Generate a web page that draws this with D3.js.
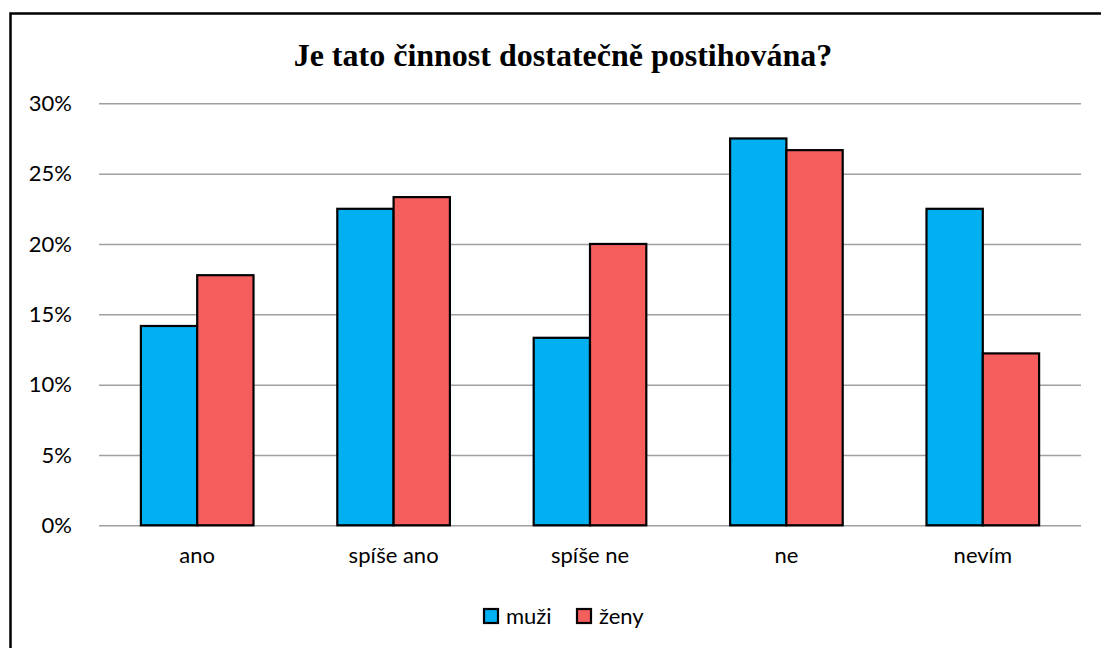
<!DOCTYPE html>
<html><head><meta charset="utf-8">
<script src="https://cdn.jsdelivr.net/npm/d3@7"></script>
<style>body{margin:0;background:#fff}svg{display:block}</style>
</head><body><svg id="c" width="1101" height="648"></svg>
<script>
const categories = ["ano","spíše ano","spíše ne","ne","nevím"];
const seriesNames = ["muži","ženy"];
const muzi = [0.1417,0.225,0.1333,0.275,0.225];
const zeny = [0.1778,0.2333,0.20,0.2667,0.1222];
const yTicks = [0,0.05,0.10,0.15,0.20,0.25,0.30];
const colors = ["#00B0F0","#F65E5E"];
const title = "Je tato činnost dostatečně postihována?";

const svg = d3.select("#c");
const L=99,R=1081,T=103.3,B=525.3;
const x0 = d3.scaleBand().domain(categories).range([L,R]).padding(0);
const x1 = d3.scaleBand().domain(seriesNames).range([0,x0.bandwidth()]).paddingInner(0).paddingOuter(0.744);
const y = d3.scaleLinear().domain([0,0.30]).range([B,T]);
const font = "Lato, 'Open Sans', sans-serif";
const fs = 22;

// frame
svg.append("path").attr("d",`M10.5,648 L10.5,13.5 L1101,13.5`).attr("fill","none").attr("stroke","#000").attr("stroke-width",2.5);

svg.append("text").attr("x",563).attr("y",66).attr("text-anchor","middle")
  .attr("font-family","'Liberation Serif','Times New Roman',serif").attr("font-weight","bold")
  .attr("font-size",32).text(title);

// grid
const ya = d3.axisLeft(y).tickValues(yTicks).tickSize(-(R-L)).tickFormat(d3.format(".0%")).tickPadding(27);
const g = svg.append("g").attr("transform",`translate(${L},0)`).call(ya);
g.select(".domain").remove();
g.selectAll(".tick line").attr("stroke","#a0a0a0").attr("stroke-width",1.5);
g.selectAll(".tick text").attr("font-family",font).attr("font-size",fs).attr("fill","#000");

// bars
const data = categories.map((c,i)=>({c, v:[muzi[i],zeny[i]]}));
const grp = svg.append("g").selectAll("g").data(data).join("g").attr("transform",d=>`translate(${x0(d.c)},0)`);
grp.selectAll("rect").data(d=>d.v.map((v,j)=>({s:seriesNames[j],v,j}))).join("rect")
  .attr("x",d=>x1(d.s)).attr("width",x1.bandwidth())
  .attr("y",d=>y(d.v)).attr("height",d=>B-y(d.v))
  .attr("fill",d=>colors[d.j]).attr("stroke","#000").attr("stroke-width",2.2);

// x labels
const xa = d3.axisBottom(x0).tickSize(0).tickPadding(22);
const gx = svg.append("g").attr("transform",`translate(0,${B})`).call(xa);
gx.select(".domain").remove();
gx.selectAll(".tick text").attr("font-family",font).attr("font-size",fs).attr("fill","#000");

// legend
const leg = [{n:"muži",x:484,c:colors[0]},{n:"ženy",x:577,c:colors[1]}];
const lg = svg.append("g").selectAll("g").data(leg).join("g");
lg.append("rect").attr("x",d=>d.x).attr("y",609).attr("width",14).attr("height",14)
  .attr("fill",d=>d.c).attr("stroke","#000").attr("stroke-width",2.2);
lg.append("text").attr("x",d=>d.x+22).attr("y",624).attr("font-family",font).attr("font-size",fs).text(d=>d.n);
</script></body></html>
